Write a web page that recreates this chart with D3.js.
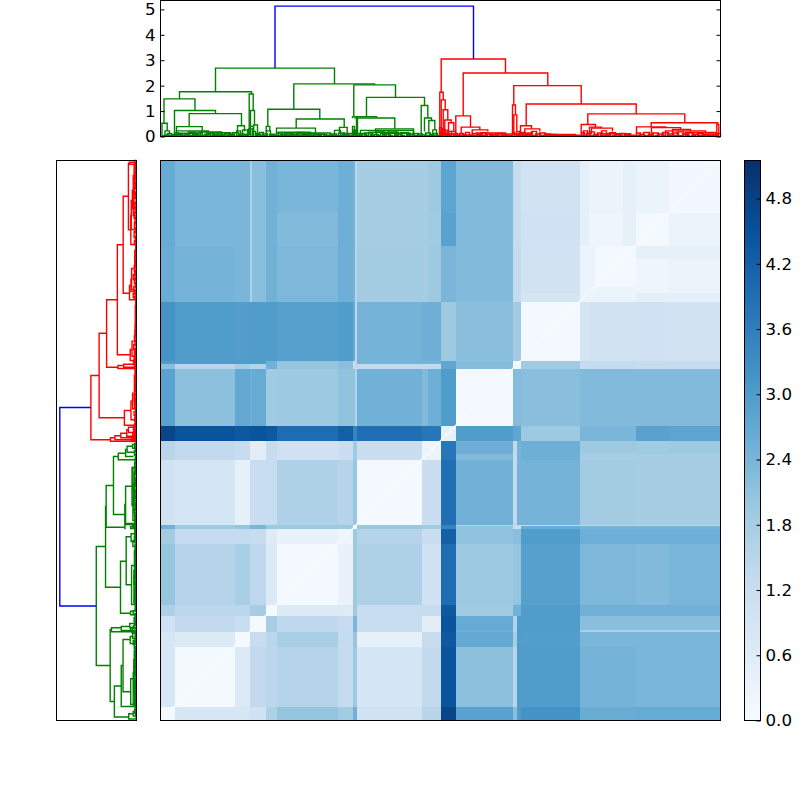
<!DOCTYPE html>
<html lang="en">
  <head>
    <meta charset="utf-8">
    <title>Clustered distance matrix</title>
    <style>
      html, body { margin: 0; padding: 0; background: #fff; }
      svg { display: block; }
      text { font-family: "DejaVu Sans", sans-serif; font-size: 16.67px; fill: #000; }
    </style>
  </head>
  <body>
  <script src="https://d3js.org/d3.v7.min.js"></script>
  <svg width="800" height="800"></svg>

  <script type="text/javascript">

    // heatmap block edges, in leaf position along the matrix (bottom left = 0)
    var edges = [0, 14, 74, 89, 105, 116, 177, 192, 196, 261, 280, 295, 352, 360, 419, 475, 508, 560];

    // lower triangle of the symmetric distance matrix, one row per block
    var distances = [
      [0.1],
      [0.85, 0.08],
      [0.85, 0.7, 0.1],
      [1.05, 1.35, 1.2, 0.1],
      [1.65, 1.45, 1.45, 1.8, 0.1],
      [2.05, 1.55, 1.75, 1.4, 0.7, 0.1],
      [1.85, 1.3, 1.3, 1.25, 0.65, 0.35, 0.28],
      [2.5, 1.95, 2.05, 2.4, 1.95, 1.95, 1.95, 0.1],
      [1.0, 0.9, 0.45, 1.2, 1.2, 1.65, 1.55, 2.0, 0.1],
      [1.5, 1.35, 1.25, 0.55, 1.25, 1.05, 1.15, 1.9, 1.15, 0.25],
      [4.75, 4.45, 4.35, 4.45, 4.35, 3.95, 4.2, 3.5, 3.9, 3.75, 0.4],
      [2.85, 2.15, 2.7, 2.65, 1.9, 1.95, 2.1, 2.1, 2.5, 2.55, 3.0, 0.1],
      [2.2, 1.5, 1.8, 1.6, 2.5, 2.05, 2.2, 1.2, 1.35, 1.35, 2.75, 2.25, 0.15],
      [3.2, 3.0, 2.95, 3.0, 3.0, 2.9, 3.0, 2.6, 2.45, 2.55, 1.95, 2.2, 1.9, 0.1],
      [2.6, 2.45, 2.4, 2.2, 2.5, 2.35, 2.55, 2.45, 1.85, 1.95, 2.4, 2.3, 1.3, 1.0, 0.1],
      [2.65, 2.4, 2.4, 2.2, 2.5, 2.3, 2.55, 2.45, 1.8, 1.9, 2.85, 2.3, 1.25, 1.05, 0.22, 0.1],
      [2.65, 2.4, 2.4, 2.2, 2.5, 2.4, 2.55, 2.45, 1.8, 1.95, 2.8, 2.3, 1.25, 1.0, 0.32, 0.3, 0.12]
    ];

    // narrow bands inside the blocks: row from, row to, column from, column to, value
    var bands = [
      [356.7, 360, 0, 105, 3.0],
      [356.7, 360, 196, 280, 2.45],
      [419, 560, 89, 91, 1.7],
      [295, 352, 89, 91, 2.55],
      [419, 560, 261, 267, 1.8],
      [295, 352, 261, 267, 2.3],
      [194.5, 196, 295, 560, 1.4],
      [419, 560, 194.5, 196, 1.5],
      [295, 352, 194.5, 196, 1.55],
      [475, 560, 419, 428, 0.5],
      [475, 560, 462, 475, 0.45],
      [419, 475, 419, 434, 0.3],
      [419, 428, 360, 419, 0.9]
    ];

    // dendrogram merges: left position, left height, right position, right height, merge height
    var blueLinks = [[114.5, 2.69, 313, 3.05, 5.13]];

    var greenLinks = [
      [55, 1.76, 174, 2.07, 2.69], [19, 1.48, 91, 1.67, 1.76], [133.3, 1.07, 214, 2.03, 2.07],
      [3.5, 0.52, 34.5, 1.02, 1.48], [14, 0.1, 55, 0.9, 1.02], [28.7, 0.39, 81, 0.42, 0.9],
      [16, 0.1, 41.7, 0.14, 0.39], [77, 0.15, 84, 0.2, 0.42], [88.7, 0.1, 92.7, 1.02, 1.67],
      [90, 0.4, 94, 0.45, 1.02], [1.5, 0, 6.7, 0.22, 0.52], [4.5, 0, 9, 0.08, 0.22],
      [107.3, 0.4, 159.3, 0.69, 1.07], [105.7, 0.1, 109.3, 0.2, 0.4], [135.7, 0.33, 183.7, 0.36, 0.69],
      [116, 0.1, 155, 0.14, 0.33], [179, 0.15, 186.7, 0.12, 0.36], [193.3, 0.78, 235, 1.54, 2.03],
      [192, 0.72, 194.6, 0.7, 0.78], [206, 0.78, 264, 1.22, 1.54], [196, 0.1, 216, 0.73, 0.78],
      [197, 0.1, 234.3, 0.3, 0.73], [215, 0.12, 253, 0.1, 0.3], [260.7, 0.1, 267.3, 0.73, 1.22],
      [264, 0.2, 271, 0.63, 0.73], [268.3, 0.12, 274.3, 0.26, 0.63], [272.3, 0, 276, 0, 0.26],
      [90, 0, 93, 0.2, 0.4], [92, 0, 95, 0, 0.2], [93, 0, 97, 0.12, 0.45], [95, 0, 99, 0, 0.12]
    ];

    var redLinks = [
      [280.7, 1.74, 345, 2.5, 3.05], [279.3, 0.1, 282.7, 1.44, 1.74], [280.7, 0.1, 284.7, 1.05, 1.44],
      [282.7, 0.1, 287.3, 0.65, 1.05], [284.3, 0.1, 290.7, 0.54, 0.65], [288, 0.1, 293.3, 0.2, 0.54],
      [291, 0, 295, 0, 0.2], [302.7, 0.81, 387.3, 2.0, 2.5], [295.3, 0.12, 310, 0.37, 0.81],
      [300.7, 0.12, 319.3, 0.26, 0.37], [311.7, 0.1, 327.3, 0.2, 0.26], [353.3, 1.24, 420.7, 1.28, 2.0],
      [352, 0.1, 355, 0.85, 1.24], [353.3, 0.1, 356.3, 0.23, 0.85], [365.7, 0.42, 475.7, 0.89, 1.28],
      [360, 0.1, 371, 0.3, 0.42], [364.3, 0.1, 379.3, 0.2, 0.3], [427.3, 0.47, 524.3, 0.54, 0.89],
      [420.7, 0.12, 435, 0.37, 0.47], [429, 0.1, 441, 0.33, 0.37], [431, 0.1, 452, 0.2, 0.33],
      [490.7, 0.38, 557.3, 0.47, 0.54], [476, 0.1, 505.4, 0.35, 0.38], [491, 0.12, 520, 0.28, 0.35],
      [512, 0.1, 530, 0.2, 0.28], [556.3, 0.1, 558.3, 0.1, 0.47]
    ];

    // small merges close to the baseline: left position, right position, height
    var greenLow = [
      [5, 8, 0.06], [7, 11, 0.12], [11, 15, 0.08], [14, 18, 0.14], [17, 22, 0.07], [20, 26, 0.11], [24, 30, 0.06],
      [28, 34, 0.15], [32, 38, 0.08], [36, 42, 0.12], [40, 46, 0.18], [44, 50, 0.08], [48, 54, 0.13], [52, 58, 0.07],
      [56, 62, 0.1], [60, 66, 0.06], [64, 70, 0.12], [68, 74, 0.09], [72, 78, 0.15], [76, 80, 0.22], [79, 84, 0.1],
      [82, 87, 0.26], [85, 90, 0.08], [88, 92, 0.3], [96, 100, 0.08], [99, 103, 0.16], [102, 107, 0.1], [106, 110, 0.22],
      [109, 114, 0.09], [112, 118, 0.05], [116, 122, 0.14], [120, 126, 0.08], [124, 132, 0.12], [130, 138, 0.06],
      [136, 144, 0.16], [142, 150, 0.08], [148, 155, 0.12], [153, 160, 0.06], [158, 166, 0.09], [164, 172, 0.05],
      [170, 176, 0.1], [174, 180, 0.24], [178, 184, 0.14], [182, 188, 0.1], [186, 191, 0.05], [192, 194, 0.4],
      [193, 195, 0.25], [194, 196, 0.15], [197, 201, 0.06], [200, 206, 0.1], [204, 212, 0.14], [210, 218, 0.08],
      [216, 224, 0.18], [222, 230, 0.1], [228, 236, 0.22], [234, 242, 0.1], [240, 248, 0.16], [246, 254, 0.08],
      [252, 258, 0.12], [257, 262, 0.1], [261, 266, 0.06], [265, 270, 0.14], [269, 273, 0.08], [273, 277, 0.12],
      [16, 48, 0.22], [28, 61, 0.18], [18, 40, 0.13], [46, 70, 0.15], [118, 150, 0.17], [138, 170, 0.14],
      [125, 160, 0.1], [200, 253, 0.24], [208, 238, 0.17], [182, 205, 0.12], [220, 250, 0.13]
    ];

    // the tiniest merges along the baseline
    var greenTiny = [
      [2, 4, 0.03], [6, 9, 0.04], [10, 13, 0.03], [15, 18, 0.04], [19, 23, 0.03], [25, 28, 0.04], [30, 33, 0.03],
      [35, 38, 0.04], [39, 43, 0.03], [45, 48, 0.04], [50, 53, 0.03], [55, 59, 0.04], [61, 64, 0.03], [66, 69, 0.04],
      [71, 74, 0.03], [77, 81, 0.04], [83, 86, 0.03], [97, 101, 0.04], [103, 106, 0.03], [110, 113, 0.04], [115, 119, 0.03],
      [121, 125, 0.04], [127, 131, 0.03], [133, 137, 0.04], [139, 143, 0.03], [145, 149, 0.04], [151, 155, 0.03],
      [157, 161, 0.04], [163, 167, 0.03], [169, 173, 0.04], [175, 179, 0.03], [181, 185, 0.04], [187, 190, 0.03],
      [198, 202, 0.04], [204, 208, 0.03], [210, 214, 0.04], [216, 220, 0.03], [222, 226, 0.04], [228, 232, 0.03],
      [234, 238, 0.04], [240, 244, 0.03], [246, 250, 0.04], [252, 256, 0.03], [258, 262, 0.04], [264, 268, 0.03],
      [270, 274, 0.04], [275, 278, 0.03]
    ];

    var redLow = [
      [279, 281, 0.35], [280, 282, 0.2], [282, 284, 0.3], [283, 285, 0.15], [285, 287, 0.25], [286, 289, 0.12],
      [288, 291, 0.2], [290, 293, 0.09], [293, 297, 0.12], [296, 300, 0.06], [299, 303, 0.12], [302, 306, 0.07],
      [305, 309, 0.16], [308, 313, 0.06], [312, 317, 0.12], [316, 322, 0.08], [320, 326, 0.15], [325, 331, 0.1],
      [330, 336, 0.07], [335, 342, 0.12], [341, 347, 0.05], [346, 352, 0.04], [352, 354, 0.16], [354, 356, 0.08],
      [356, 359, 0.2], [358, 362, 0.12], [361, 365, 0.16], [364, 368, 0.09], [367, 372, 0.14], [371, 376, 0.2],
      [375, 380, 0.1], [379, 385, 0.14], [384, 390, 0.1], [389, 396, 0.08], [395, 402, 0.06], [401, 408, 0.05],
      [407, 414, 0.04], [413, 421, 0.05], [421, 424, 0.15], [423, 427, 0.22], [426, 430, 0.12], [429, 434, 0.18],
      [433, 438, 0.08], [437, 442, 0.14], [441, 446, 0.22], [445, 450, 0.1], [449, 455, 0.15], [454, 460, 0.07],
      [459, 465, 0.12], [464, 470, 0.08], [469, 476, 0.05], [476, 480, 0.14], [479, 484, 0.08], [483, 489, 0.16],
      [488, 493, 0.09], [492, 498, 0.14], [497, 503, 0.1], [502, 508, 0.16], [507, 513, 0.1], [512, 518, 0.14],
      [517, 523, 0.18], [522, 528, 0.1], [527, 533, 0.14], [532, 538, 0.08], [537, 543, 0.12], [542, 548, 0.07],
      [547, 553, 0.1], [552, 556, 0.06], [555, 558, 0.08], [557, 560, 0.12],
      [316, 345, 0.14], [335, 370, 0.1], [385, 415, 0.08], [440, 470, 0.11], [505, 545, 0.22], [525, 555, 0.16]
    ];

    var redTiny = [
      [294, 297, 0.04], [298, 301, 0.03], [303, 306, 0.04], [307, 311, 0.03], [313, 316, 0.04], [318, 321, 0.03],
      [323, 327, 0.04], [329, 333, 0.03], [335, 339, 0.04], [341, 345, 0.03], [347, 351, 0.02], [357, 360, 0.04],
      [362, 366, 0.03], [368, 371, 0.04], [373, 377, 0.03], [379, 383, 0.04], [385, 389, 0.03], [391, 395, 0.04],
      [397, 401, 0.03], [403, 407, 0.02], [409, 413, 0.03], [415, 419, 0.02], [422, 425, 0.04], [428, 432, 0.03],
      [434, 438, 0.04], [440, 444, 0.03], [446, 450, 0.04], [452, 456, 0.03], [458, 462, 0.04], [464, 468, 0.03],
      [470, 474, 0.02], [477, 481, 0.04], [483, 487, 0.03], [489, 493, 0.04], [495, 499, 0.03], [501, 505, 0.04],
      [507, 511, 0.03], [513, 517, 0.04], [519, 523, 0.03], [525, 529, 0.04], [531, 535, 0.03], [537, 541, 0.04],
      [543, 547, 0.03], [549, 553, 0.04], [554, 558, 0.03]
    ];

    var heightTicks = [0, 1, 2, 3, 4, 5];
    var colorbarTicks = [0, 0.6, 1.2, 1.8, 2.4, 3.0, 3.6, 4.2, 4.8];
    var blues = ['#f7fbff', '#deebf7', '#c6dbef', '#9ecae1', '#6baed6', '#4292c6', '#2171b5', '#08519c', '#08306b'];

    var vmax = 5.15,
        hmax = 5.35;

    var svg = d3.select("svg");

    var color = d3.scaleLinear()
        .domain(d3.range(blues.length).map(function(i) { return i * vmax / (blues.length - 1); }))
        .range(blues);

    // scales, the matrix and both dendrograms share the leaf positions
    var x = d3.scaleLinear().domain([0, 560]).range([160.5, 720.5]);
    var y = d3.scaleLinear().domain([0, 560]).range([720.5, 160.5]);
    var topH = d3.scaleLinear().domain([0, hmax]).range([136.5, 0.5]);
    var leftH = d3.scaleLinear().domain([0, hmax]).range([136.5, 56.5]);
    var cb = d3.scaleLinear().domain([0, vmax]).range([720.5, 160.5]);

    // heatmap
    var cells = [];
    edges.slice(1).forEach(function(e, i) {
      edges.slice(1).forEach(function(f, j) {
        cells.push({r0: edges[i], r1: edges[i + 1], c0: edges[j], c1: edges[j + 1], v: i >= j ? distances[i][j] : distances[j][i]});
      });
    });
    bands.forEach(function(b) {
      cells.push({r0: b[0], r1: b[1], c0: b[2], c1: b[3], v: b[4]});
      cells.push({r0: b[2], r1: b[3], c0: b[0], c1: b[1], v: b[4]});
    });

    svg.append("g").selectAll("rect")
        .data(cells)
        .enter()
        .append("rect")
        .attr("x", function(d) { return x(d.c0); })
        .attr("y", function(d) { return y(d.r1); })
        .attr("width", function(d) { return x(d.c1) - x(d.c0); })
        .attr("height", function(d) { return y(d.r0) - y(d.r1); })
        .attr("fill", function(d) { return color(d.v); })
        .attr("shape-rendering", "crispEdges");

    // pale diagonal
    svg.append("line")
        .attr("x1", x(0)).attr("y1", y(0))
        .attr("x2", x(560)).attr("y2", y(560))
        .attr("stroke", color(0))
        .attr("stroke-width", 1.2);

    // dendrograms
    function lowToLinks(list) {
      return list.map(function(d) { return [d[0], 0, d[1], 0, d[2]]; });
    }

    var groups = [
      {links: lowToLinks(greenTiny).concat(lowToLinks(greenLow), greenLinks), stroke: "#008000"},
      {links: lowToLinks(redTiny).concat(lowToLinks(redLow), redLinks), stroke: "#ff0000"},
      {links: blueLinks, stroke: "#0000ff"}
    ];

    var topPath = function(d) {
      return "M" + x(d[0]) + "," + topH(d[1]) + "V" + topH(d[4]) + "H" + x(d[2]) + "V" + topH(d[3]);
    };
    var leftPath = function(d) {
      return "M" + leftH(d[1]) + "," + y(d[0]) + "H" + leftH(d[4]) + "V" + y(d[2]) + "H" + leftH(d[3]);
    };

    groups.forEach(function(g) {
      [topPath, leftPath].forEach(function(p) {
        svg.append("g").selectAll("path")
            .data(g.links)
            .enter()
            .append("path")
            .attr("d", p)
            .attr("fill", "none")
            .attr("stroke", g.stroke)
            .attr("stroke-width", 1.4);
      });
    });

    // colorbar
    var gradient = svg.append("defs").append("linearGradient")
        .attr("id", "ramp")
        .attr("x1", 0).attr("y1", 1)
        .attr("x2", 0).attr("y2", 0);

    gradient.selectAll("stop")
        .data(blues)
        .enter()
        .append("stop")
        .attr("offset", function(d, i) { return i / (blues.length - 1); })
        .attr("stop-color", function(d) { return d; });

    svg.append("rect")
        .attr("x", 744.5).attr("y", cb(vmax))
        .attr("width", 16).attr("height", cb(0) - cb(vmax))
        .attr("fill", "url(#ramp)");

    // frames
    var frames = [[160.5, 0.5, 560, 136], [56.5, 160.5, 80, 560], [160.5, 160.5, 560, 560], [744.5, 160.5, 16, 560]];

    svg.append("g").selectAll("rect")
        .data(frames)
        .enter()
        .append("rect")
        .attr("x", function(d) { return d[0]; })
        .attr("y", function(d) { return d[1]; })
        .attr("width", function(d) { return d[2]; })
        .attr("height", function(d) { return d[3]; })
        .attr("fill", "none")
        .attr("stroke", "#000")
        .attr("stroke-width", 1);

    // axes, ticks point inwards like the reference
    var styleAxis = function(sel) {
      sel.select(".domain").remove();
      sel.selectAll("text").style("font-family", "DejaVu Sans").style("font-size", "16.67px");
      sel.attr("font-size", null).attr("font-family", null);
    };

    svg.append("g")
        .attr("transform", "translate(160.5,0)")
        .call(d3.axisLeft(topH).tickValues(heightTicks).tickSize(-4).tickPadding(5).tickFormat(d3.format("d")))
        .call(styleAxis);

    svg.append("g")
        .attr("transform", "translate(720.5,0)")
        .call(d3.axisRight(topH).tickValues(heightTicks).tickSize(-4).tickFormat(""))
        .call(styleAxis);

    svg.append("g")
        .attr("transform", "translate(760.5,0)")
        .call(d3.axisRight(cb).tickValues(colorbarTicks).tickSize(-4).tickPadding(5).tickFormat(d3.format(".1f")))
        .call(styleAxis);

  </script>
  </body>
</html>
